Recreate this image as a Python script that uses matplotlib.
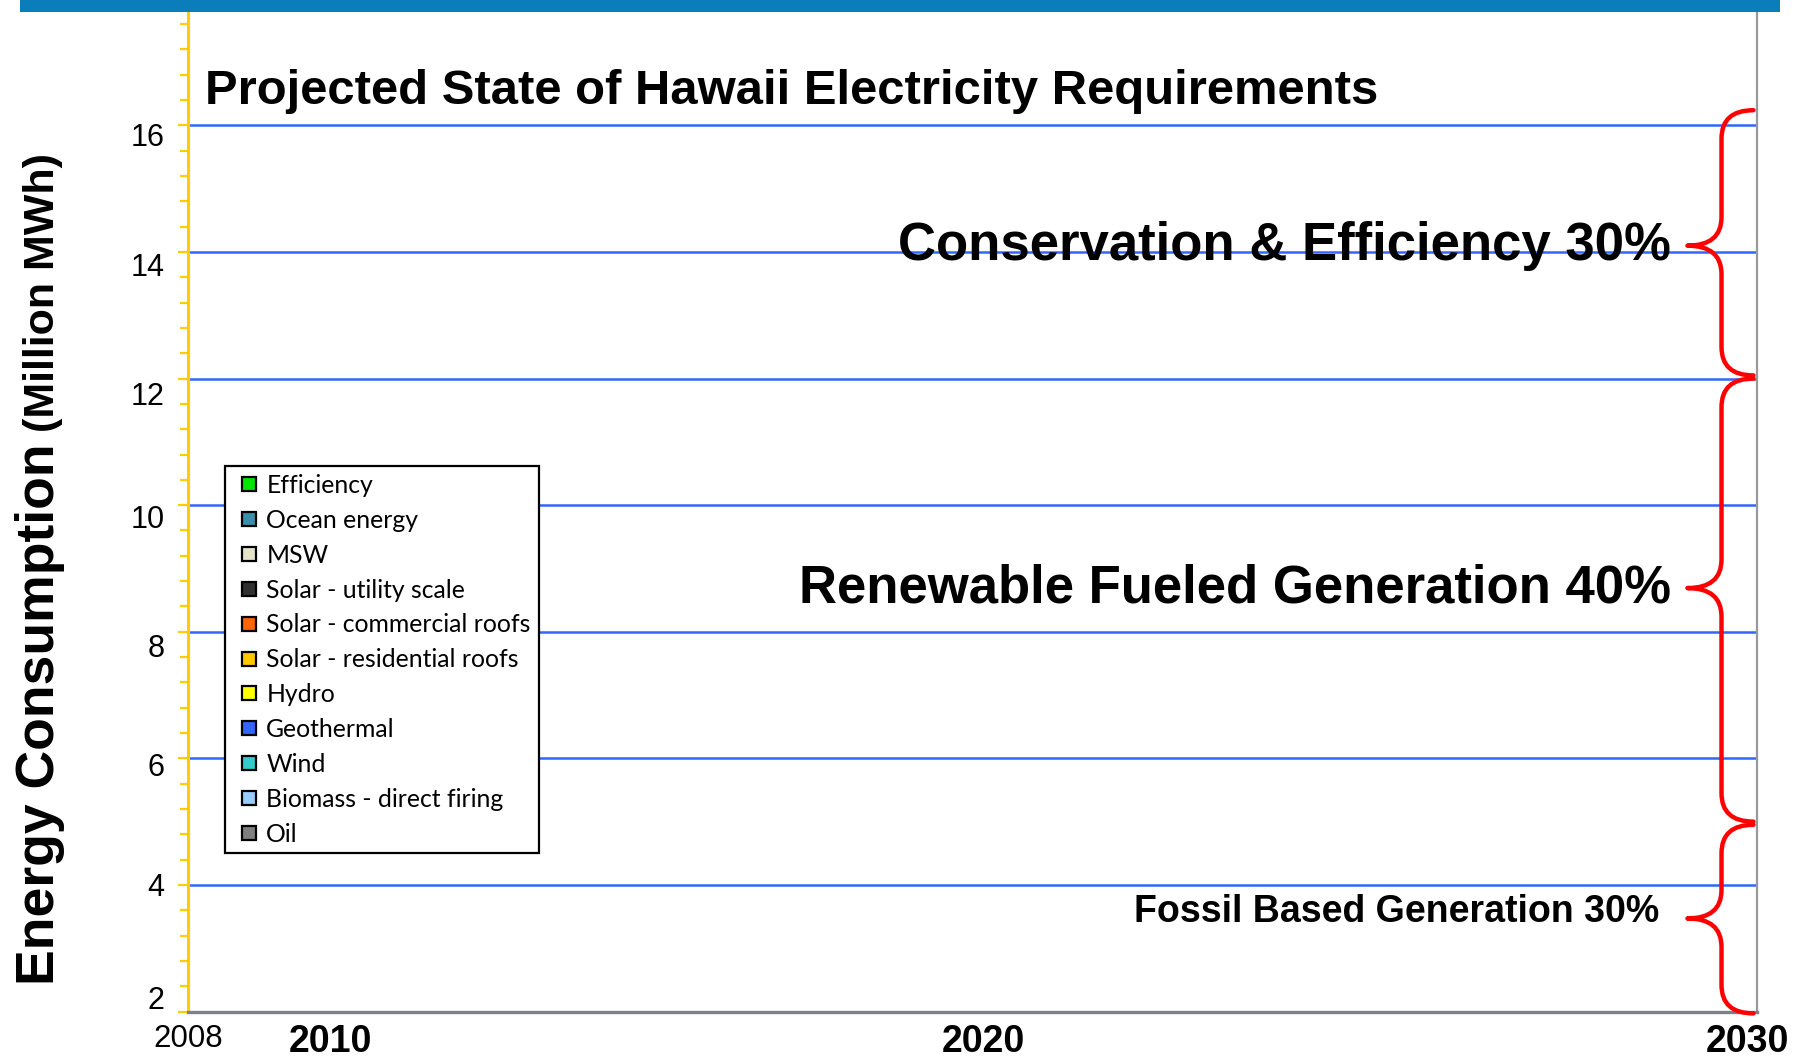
import matplotlib

matplotlib.use("Agg")
import matplotlib.pyplot as plt
import numpy as np
from matplotlib import font_manager
from matplotlib.lines import Line2D
from matplotlib.patches import PathPatch, Rectangle
from matplotlib.path import Path
from matplotlib.transforms import ScaledTranslation

# ---- data -------------------------------------------------------------
series_names = [
    "Efficiency",
    "Ocean energy",
    "MSW",
    "Solar - utility scale",
    "Solar - commercial roofs",
    "Solar - residential roofs",
    "Hydro",
    "Geothermal",
    "Wind",
    "Biomass - direct firing",
    "Oil",
]
series_colors = [
    "#00E400",
    "#3A8FAA",
    "#E4E2C8",
    "#303030",
    "#FF6600",
    "#FFC800",
    "#FFFF00",
    "#3366FF",
    "#33CCCC",
    "#99CCFF",
    "#7F7F7F",
]
year_min, year_max = 2008, 2030
y_min, y_max = 2, 17.8
y_ticks = [2, 4, 6, 8, 10, 12, 14, 16]
x_tick_labels = ["2008", "2010", "2020", "2030"]
x_tick_years = [2007.9, 2009.9, 2019.1, 2029.87]
x_tick_bold = [False, True, True, True]

brace_labels = [
    "Conservation & Efficiency 30%",
    "Renewable Fueled Generation 40%",
    "Fossil Based Generation 30%",
]
brace_low = [12.05, 5.0, 1.97]
brace_high = [16.24, 12.0, 4.95]
brace_tip = [14.1, 8.69, 3.47]

# ---- styling ----------------------------------------------------------
brace_fontsize = [38, 38, 27]
brace_text_offset = [(-12, 0), (-12, 0), (-20, 5)]
# the original slide nudges its y labels by hand (points, + = up)
y_label_nudge = [10, 0, -4.5, -10, -8, -11, -9, -6.5]

installed = {f.name for f in font_manager.fontManager.ttflist}
sans = "Liberation Sans"
if "Liberation Sans Narrow" in installed:
    title_font, title_size = "Liberation Sans Narrow", 42
else:
    title_font, title_size = "Liberation Sans", 35.3
legend_font = "Lato" if "Lato" in installed else "DejaVu Sans"
plt.rcParams["font.family"] = [sans, "DejaVu Sans"]

W, H = 1806, 1062
fig = plt.figure(figsize=(W / 100, H / 100), dpi=100)
fig.patch.set_facecolor("white")

left, right, bottom, top = 188 / W, 1757 / W, 1 - 1011.5 / H, 1 - 11.5 / H
ax = fig.add_axes([left, bottom, right - left, top - bottom])
ax.set_xlim(year_min, year_max)
ax.set_ylim(y_min, y_max)

# blue banner on top
fig.add_artist(
    Rectangle((20 / W, 1 - 12 / H), (1780 - 20) / W, 12 / H,
              transform=fig.transFigure, facecolor="#0B7DBA", edgecolor="none")
)

# spines
yellow = "#FFCC00"
ax.spines["top"].set_visible(False)
ax.spines["left"].set_color(yellow)
ax.spines["left"].set_linewidth(2.2)
ax.spines["bottom"].set_color("#7E7F88")
ax.spines["bottom"].set_linewidth(2.4)
ax.spines["right"].set_color("#999999")
ax.spines["right"].set_linewidth(1.6)

# y ticks
ax.set_yticks(y_ticks)
ax.set_yticks(np.arange(y_min, y_max, 0.4), minor=True)
ax.tick_params(axis="y", which="major", direction="out", length=7, width=1.6,
               color=yellow, labelsize=22, pad=10)
ax.tick_params(axis="y", which="minor", direction="out", length=5.5, width=1.6,
               color=yellow)
for tick, dy in zip(ax.yaxis.get_major_ticks(), y_label_nudge):
    tick.label1.set_transform(
        tick.label1.get_transform() + ScaledTranslation(0, dy / 72, fig.dpi_scale_trans)
    )
for y in y_ticks[1:]:
    ax.axhline(y, color="#3366FF", linewidth=1.8, zorder=1)

# x tick labels
ax.set_xticks(x_tick_years)
ax.set_xticklabels(x_tick_labels)
ax.tick_params(axis="x", length=0, pad=9)
for lab, bold in zip(ax.get_xticklabels(), x_tick_bold):
    lab.set_fontweight("bold" if bold else "normal")
    lab.set_fontsize(27 if bold else 22.5)

# title
ax.text(205 / W, 1 - 104 / H, "Projected State of Hawaii Electricity Requirements",
        transform=fig.transFigure, family=[title_font, sans], fontsize=title_size,
        fontweight="bold", ha="left", va="baseline")

# y label (two sizes)
fig.text(54 / W, 1 - 985 / H, "Energy Consumption", rotation=90,
         rotation_mode="anchor", ha="left", va="baseline", fontsize=38.5,
         fontweight="bold")
fig.text(54 / W, 1 - 432 / H, "(Million MWh)", rotation=90,
         rotation_mode="anchor", ha="left", va="baseline", fontsize=31,
         fontweight="bold")

# braces
x_tip, x_stem, x_end = 2029.02, 2029.5, 2029.95
for lo, hi, tip, label, fs, off in zip(brace_low, brace_high, brace_tip,
                                       brace_labels, brace_fontsize,
                                       brace_text_offset):
    r = min(0.45, (hi - lo) / 6)
    verts = [
        (x_end, hi), (x_stem, hi), (x_stem, hi - r),
        (x_stem, tip + r),
        (x_stem, tip), (x_tip, tip),
        (x_stem, tip), (x_stem, tip - r),
        (x_stem, lo + r),
        (x_stem, lo), (x_end, lo),
    ]
    codes = [Path.MOVETO, Path.CURVE3, Path.CURVE3, Path.LINETO,
             Path.CURVE3, Path.CURVE3, Path.CURVE3, Path.CURVE3,
             Path.LINETO, Path.CURVE3, Path.CURVE3]
    ax.add_patch(PathPatch(Path(verts, codes), facecolor="none", edgecolor="#FF0000",
                           linewidth=3.2, capstyle="round", joinstyle="round",
                           clip_on=False, zorder=5))
    ax.annotate(label, xy=(x_tip, tip), xytext=off, textcoords="offset points",
                ha="right", va="center", fontsize=fs, fontweight="bold", zorder=4)

# legend
handles = [
    Line2D([], [], linestyle="none", marker="s", markersize=10.5,
           markerfacecolor=c, markeredgecolor="black", markeredgewidth=1.6)
    for c in series_colors
]
leg = ax.legend(handles, series_names, loc="upper left",
                bbox_to_anchor=(0.0236, 0.5455), borderaxespad=0,
                frameon=True, fancybox=False, framealpha=1, edgecolor="black",
                prop={"family": legend_font, "size": 17.8}, handlelength=1.3,
                handletextpad=0.05, labelspacing=0.48, borderpad=0.32)
leg.get_frame().set_linewidth(1.6)
leg.set_zorder(6)

fig.savefig("out.png", dpi=100, facecolor="white")
